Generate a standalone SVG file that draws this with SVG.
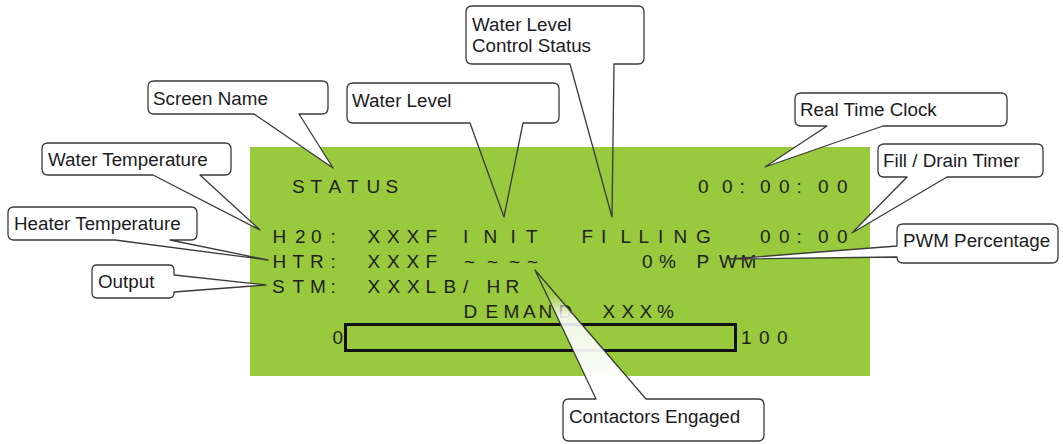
<svg xmlns="http://www.w3.org/2000/svg" width="1063" height="444" viewBox="0 0 1063 444">
<style>
.lcd{font-family:"Liberation Sans",Arial,sans-serif;font-size:19px;fill:#1e1e1e}
.lbl{font-family:"Liberation Sans",Arial,sans-serif;font-size:18.8px;fill:#1c1c24}
.co{stroke:#3a3a3a;stroke-width:1.3;stroke-linejoin:round}
.cw{fill:#ffffff}
.cn{fill:none}
</style>
<defs>
<linearGradient id="tailGrad" gradientUnits="userSpaceOnUse" x1="0" y1="270" x2="0" y2="399">
<stop offset="0" stop-color="#ffffff" stop-opacity="0"/>
<stop offset="0.2" stop-color="#ffffff" stop-opacity="0.1"/>
<stop offset="0.35" stop-color="#ffffff" stop-opacity="0.85"/>
<stop offset="1" stop-color="#ffffff" stop-opacity="1"/>
</linearGradient>
</defs>
<rect width="1063" height="444" fill="#ffffff"/>
<g id="panel">
<rect x="250" y="147" width="620" height="229" fill="#99c93c"/>
<text class="lcd" x="292 310.5 328.5 347 366.5 385.5" y="193">STATUS</text>
<text class="lcd" x="698 722 739.5 760 779 796.5 818 837" y="193">00:00:00</text>
<text class="lcd" x="272.5 295 311 330.5" y="243">H20:</text>
<text class="lcd" x="367.5 387 406.5 425.5" y="243">XXXF</text>
<text class="lcd" x="463 483.5 510.5 526" y="243">INIT</text>
<text class="lcd" x="581.5 601 620.5 638.5 658 673.5 696" y="243">FILLING</text>
<text class="lcd" x="760 779 796.5 818 837" y="243">00:00</text>
<text class="lcd" x="272.5 292.5 310 330.5" y="268">HTR:</text>
<text class="lcd" x="367.5 387 406.5 425.5" y="268">XXXF</text>
<text class="lcd" x="464 487 509 527" y="268">~~~~</text>
<text class="lcd" x="642 659" y="268">0%</text>
<text class="lcd" x="696.5 719 740.5" y="268">PWM</text>
<text class="lcd" x="272 292.5 310 330.5" y="293">STM:</text>
<text class="lcd" x="367.5 387.5 407 425.5 443.5 463 486.5 505.5" y="293">XXXLB/HR</text>
<text class="lcd" x="463.5 485.5 503.5 523 538.5 558.5" y="318">DEMAND</text>
<text class="lcd" x="602.5 621.5 639.5 657" y="318">XXX%</text>
<text class="lcd" x="332.5" y="344">0</text>
<text class="lcd" x="741 759 777" y="344">100</text>
<rect x="345.5" y="324.5" width="390" height="26" fill="none" stroke="#111111" stroke-width="3"/>
</g>
<g id="screen-name">
<path class="co cw" d="M154,81 H322 Q328,81 328,87 V108 Q328,114 322,114 H299 L333,168 L254,114 H154 Q148,114 148,108 V87 Q148,81 154,81 Z"/>
<text class="lbl" x="153" y="105">Screen Name</text>
</g>
<g id="water-temperature">
<path class="co cw" d="M48,143 H225 Q231,143 231,149 V169 Q231,175 225,175 H200 L260,230 L153,175 H48 Q42,175 42,169 V149 Q42,143 48,143 Z"/>
<text class="lbl" x="48" y="166">Water Temperature</text>
</g>
<g id="heater-temperature">
<path class="co cw" d="M14,207 H191 Q197,207 197,213 V234 Q197,240 191,240 H170 L268,260 L115,240 H14 Q8,240 8,234 V213 Q8,207 14,207 Z"/>
<text class="lbl" x="14" y="230">Heater Temperature</text>
</g>
<g id="output">
<path class="co cw" d="M97,265 H169 Q174,265 174,270 V275 L266,285 L174,292 V293 Q174,298 169,298 H97 Q92,298 92,293 V270 Q92,265 97,265 Z"/>
<text class="lbl" x="98" y="288">Output</text>
</g>
<g id="water-level">
<path class="co cn" d="M353,83 H553 Q559,83 559,89 V117 Q559,123 553,123 H523 L504,217 L470,123 H353 Q347,123 347,117 V89 Q347,83 353,83 Z"/>
<text class="lbl" x="352" y="107">Water Level</text>
</g>
<g id="water-level-control-status">
<path class="co cn" d="M472,6 H638 Q644,6 644,12 V58 Q644,64 638,64 H614 L612,217 L570,64 H472 Q466,64 466,58 V12 Q466,6 472,6 Z"/>
<text class="lbl" x="472" y="31">Water Level</text>
<text class="lbl" x="472" y="52">Control Status</text>
</g>
<g id="real-time-clock">
<path class="co cw" d="M801,93 H1001 Q1007,93 1007,99 V120 Q1007,126 1001,126 H883 L765,167 L827,126 H801 Q795,126 795,120 V99 Q795,93 801,93 Z"/>
<text class="lbl" x="800" y="116">Real Time Clock</text>
</g>
<g id="fill-drain-timer">
<path class="co cw" d="M884,144 H1037 Q1043,144 1043,150 V171 Q1043,177 1037,177 H947 L852,233 L907,177 H884 Q878,177 878,171 V150 Q878,144 884,144 Z"/>
<text class="lbl" x="883" y="167">Fill / Drain Timer</text>
</g>
<g id="pwm-percentage">
<path class="co cw" d="M903,224 H1052 Q1058,224 1058,230 V257 Q1058,263 1052,263 H903 Q897,263 897,257 L730,259 L897,246 V230 Q897,224 903,224 Z"/>
<text class="lbl" x="903" y="247">PWM Percentage</text>
</g>
<g id="contactors-engaged">
<path class="co" fill="url(#tailGrad)" d="M569,399 H596 L535,270 L646,399 H758 Q764,399 764,405 V435 Q764,441 758,441 H569 Q563,441 563,435 V405 Q563,399 569,399 Z"/>
<text class="lbl" x="569" y="423">Contactors Engaged</text>
</g>
</svg>
